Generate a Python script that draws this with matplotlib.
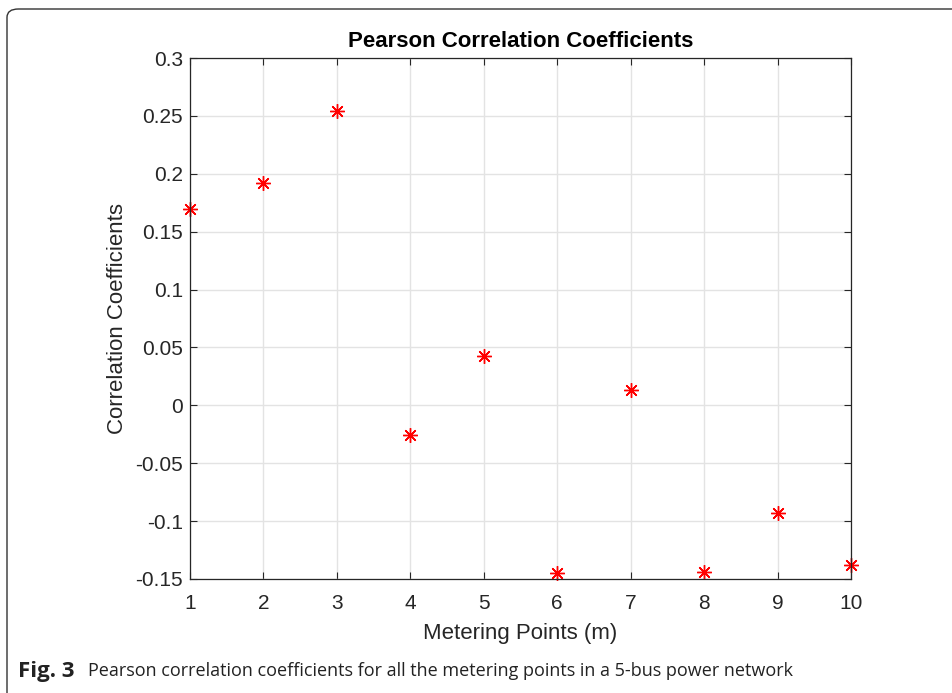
import matplotlib
matplotlib.use('Agg')
from matplotlib import pyplot as plt
from matplotlib.patches import FancyBboxPatch

# 数据
metering_points = [1, 2, 3, 4, 5, 6, 7, 8, 9, 10]
correlation = [0.170, 0.192, 0.254, -0.026, 0.043, -0.145, 0.013, -0.144, -0.093, -0.138]
y_ticks = [-0.15, -0.1, -0.05, 0, 0.05, 0.1, 0.15, 0.2, 0.25, 0.3]
y_tick_labels = ['-0.15', '-0.1', '-0.05', '0', '0.05', '0.1', '0.15', '0.2', '0.25', '0.3']

plt.rcParams['font.family'] = ['Liberation Sans', 'DejaVu Sans']

fig = plt.figure(figsize=(9.52, 6.93), dpi=100)

# 外框
border = FancyBboxPatch((7 / 952, -0.1), 1.2, (693 - 9) / 693 + 0.1,
                        boxstyle='round,pad=0,rounding_size=0.012',
                        transform=fig.transFigure, fill=False,
                        edgecolor='#333333', linewidth=1.0)
fig.patches.append(border)

ax = fig.add_axes([190 / 952, (693 - 579) / 693, (851 - 190) / 952, (579 - 58) / 693])
ax.plot(metering_points, correlation, linestyle='none', marker=(8, 2, 0),
        markersize=10.5, markeredgewidth=1.0, color='#ff0000', clip_on=False)

ax.set_xlim(1, 10)
ax.set_ylim(-0.15, 0.3)
ax.set_xticks(metering_points)
ax.set_yticks(y_ticks)
ax.set_yticklabels(y_tick_labels)
ax.grid(True, color='#e3e3e3', linewidth=1.0)
ax.set_axisbelow(True)
ax.tick_params(direction='in', top=True, right=True, length=5, width=0.8,
               labelsize=15, colors='#262626')
ax.tick_params(axis='x', pad=11)
ax.tick_params(axis='y', pad=5)
for s in ax.spines.values():
    s.set_color('#262626')
    s.set_linewidth(0.9)

ax.set_title('Pearson Correlation Coefficients', fontsize=16, fontweight='bold', pad=8)
ax.set_xlabel('Metering Points (m)', fontsize=16, color='#262626', labelpad=7)
ax.set_ylabel('Correlation Coefficients', fontsize=16, color='#262626', labelpad=5)

# 图注
fig.text(18 / 952, 1 - 671 / 693, 'Fig. 3', fontsize=16, fontweight='bold',
         family='Open Sans', va='center', ha='left', color='#222222')
fig.text(88 / 952, 1 - 671 / 693,
         'Pearson correlation coefficients for all the metering points in a 5-bus power network',
         fontsize=13, family='Open Sans', va='center', ha='left', color='#222222')

fig.savefig('out.png', dpi=100)
